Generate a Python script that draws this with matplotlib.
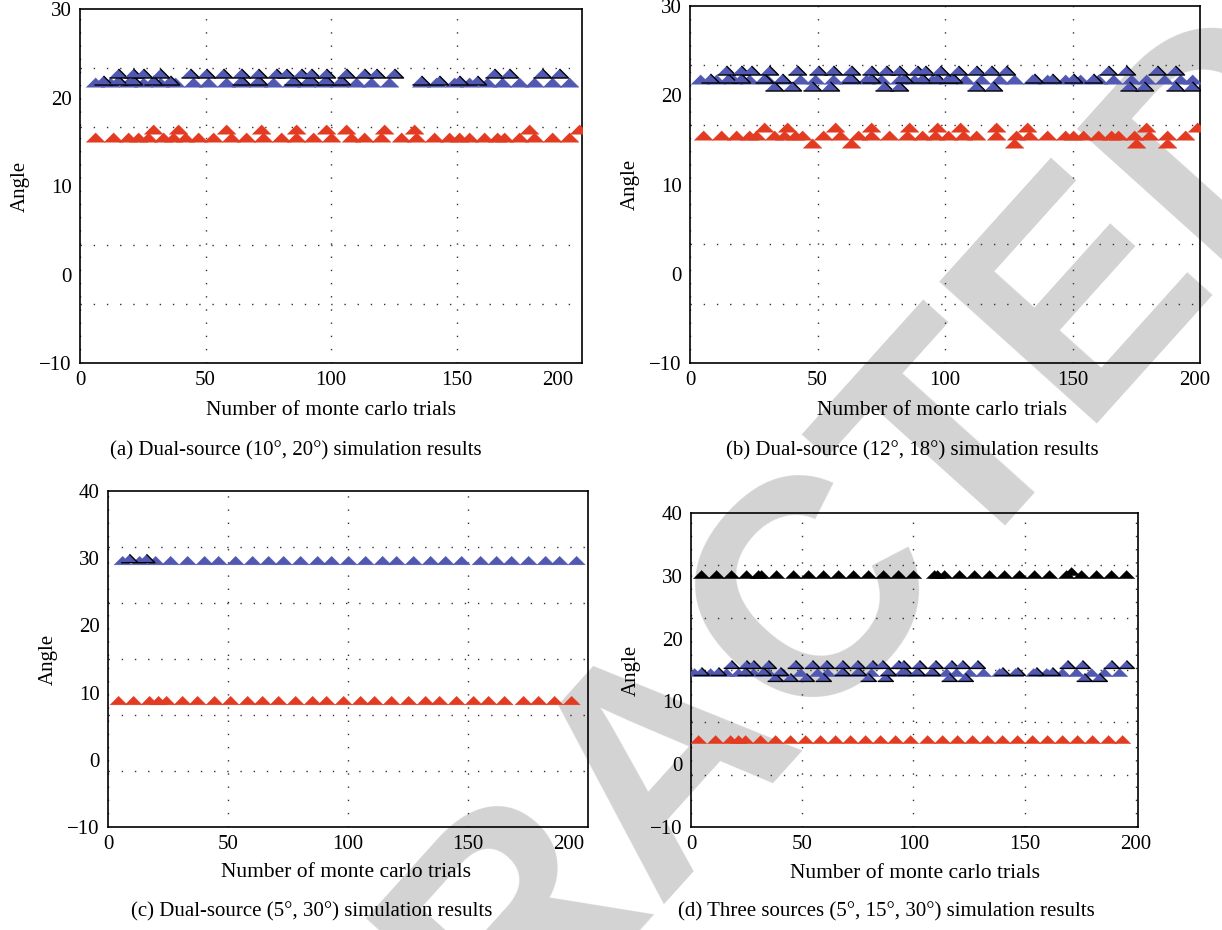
import matplotlib
matplotlib.use("Agg")
import matplotlib.pyplot as plt
import matplotlib.transforms as mtransforms
import numpy as np

plt.rcParams["font.family"] = ["Liberation Serif", "DejaVu Serif"]

# ---- data (trial number, estimated angle) ----
# (a) dual source
a_red_base = [6, 13, 19, 23, 27, 33, 37, 42, 47, 53, 60, 66, 73, 80, 86, 93, 100, 108, 113,
              120, 128, 134, 141, 147, 151, 155, 161, 166, 169, 175, 181, 188, 195]
a_red_up = [29, 39, 58, 72, 86, 98, 106, 121, 133, 179, 199]
a_blue = [6, 12, 19, 25, 32, 38, 45, 51, 58, 64, 71, 77, 84, 90, 97, 103, 110, 116, 123,
          136, 142, 149, 155, 162, 168, 175, 181, 188, 195]
a_open_up = [15, 21, 25, 32, 44, 50, 57, 64, 71, 78, 82, 88, 92, 98, 106, 113, 118, 125,
             165, 171, 184, 191]
a_open_mid = [9, 15, 21, 29, 36, 64, 71, 85, 92, 98, 104, 136, 143, 151, 158]

# (b) dual source
b_red_base = [5, 12, 18, 23, 26, 33, 37, 41, 44, 52, 59, 66, 71, 78, 85, 91, 96, 101, 107,
              112, 120, 128, 133, 140, 147, 150, 154, 160, 165, 168, 174, 180, 187, 194]
b_red_up = [29, 38, 57, 71, 86, 97, 106, 120, 132, 179, 199]
b_red_low = [48, 63, 127, 175, 187]
b_blue = [4, 10, 17, 23, 30, 36, 43, 49, 56, 62, 69, 75, 82, 88, 95, 101, 108, 114, 121,
          127, 134, 140, 147, 153, 160, 166, 173, 179, 186, 192, 197]
b_open_up = [14, 20, 24, 31, 42, 50, 56, 63, 71, 77, 82, 89, 92, 98, 105, 112, 118, 124,
             164, 171, 183, 190]
b_open_mid = [8, 15, 20, 29, 36, 63, 71, 84, 91, 97, 101, 103, 135, 142, 150, 158]
b_open_low = [33, 40, 48, 55, 76, 82, 112, 119, 172, 178, 190, 197]

# (c) dual source
c_red = [4, 10.5, 17, 21, 24, 31, 37, 44, 51, 58, 64, 71, 78, 85, 91, 98, 105, 111, 118,
         125, 132, 138, 145, 152, 158.5, 165, 173, 179, 186, 193]
c_blue = [6, 13, 19.5, 26, 33, 40, 46, 53, 60, 66.5, 73, 80, 87, 93, 100, 107, 114, 120,
          127, 134, 140.5, 147, 155, 161.5, 168, 175, 182, 188, 195]
c_open = [8.7, 15.8]

# (d) three sources
d_black = [4.6, 11.4, 18.2, 24.9, 30.2, 31.7, 38.4, 45.9, 52.7, 59.5, 66.2, 73.0, 79.7,
           86.5, 93.2, 100, 109.2, 110.7, 113.7, 120.4, 127.2, 133.9, 140.7, 147.4, 154.2,
           160.9, 168.5, 175.2, 182.0, 188.7, 195.5]
d_black_up = [170.7]
d_blue = [1.5, 8.4, 15.8, 21, 28, 34.5, 41, 49, 56.5, 61, 68, 74.5, 81, 88, 94.5, 101, 108,
          114.5, 119, 124.8, 131.5, 138.3, 145.9, 154, 159.5, 167, 173, 179.7, 185.6, 192.3]
d_open_up = [18.2, 24.9, 27.9, 34.7, 46.7, 54.2, 60.9, 67.7, 74.5, 81.2, 85.7, 93.2, 95.5,
             102.3, 109.9, 116.7, 121.9, 128.7, 169.2, 175.9, 188.7, 195.5]
d_open_mid = [4.6, 12.2, 24.2, 32.4, 40.0, 67.7, 75.2, 88.7, 96.3, 101.5, 108.4, 140.0,
              146.7, 155.0, 162.5]
d_open_low = [37.7, 44.5, 51.9, 59.5, 79.7, 87.2, 115.9, 123.4, 176.7, 183.5]
d_red = [3.2, 10.7, 17.4, 21.2, 24.2, 30.9, 37.7, 44.5, 51.2, 58.0, 64.7, 71.5, 78.2, 85.0,
         91.8, 98.5, 106.2, 112.9, 119.7, 126.4, 133.2, 139.9, 146.7, 153.5, 160.2, 167.0,
         173.7, 180.5, 187.3, 194.0]

RED = "#e23b22"
BLUE = "#5158b2"
TRI = [(-1, -0.5), (1, -0.5), (0, 0.5)]  # wide flat triangle

captions = [
    "(a) Dual-source (10°, 20°) simulation results",
    "(b) Dual-source (12°, 18°) simulation results",
    "(c) Dual-source (5°, 30°) simulation results",
    "(d) Three sources (5°, 15°, 30°) simulation results",
]

fig = plt.figure(figsize=(12.22, 9.30), dpi=100)
W, H = 1222, 930

# watermark behind everything
fig.text(668 / W, 1 - 758 / H, "RETRACTED", rotation=48, rotation_mode="anchor",
         ha="center", va="center", fontsize=222, fontweight="bold",
         family="Liberation Sans", color="#d3d3d3", zorder=-5)


def make_ax(l, r, t, b):
    return fig.add_axes([l / W, 1 - b / H, (r - l) / W, (b - t) / H])


def dots(ax, x, y, color, ms, edge=None):
    ax.plot(x, [y] * len(x), ls="none", marker=TRI, ms=ms, color=color,
            mec=edge if edge else color, mew=1.0 if edge else 0.3, zorder=3)


def style(ax, ylo, yhi, xhi, yticks, cap, lx, ly, cx, cy, shift200):
    ax.set_facecolor("none")
    ax.set_xlim(0, xhi)
    ax.set_ylim(ylo, yhi)
    ax.set_xticks([0, 50, 100, 150, 200])
    ax.set_yticks(yticks)
    ax.set_yticks(np.linspace(ylo, yhi, 7)[1:-1], minor=True)
    ax.tick_params(which="both", length=0, labelsize=15, pad=6)
    ax.grid(axis="x", which="major", color="#333333", ls=(0, (1, 8.5)), lw=1.0)
    ax.grid(axis="y", which="minor", color="#333333", ls=(0, (1, 8.5)), lw=1.0)
    for s in ax.spines.values():
        s.set_linewidth(1.2)
    ax.set_yticklabels([f"{v}".replace("-", "\u2212") for v in yticks])
    if shift200:
        lab = ax.get_xticklabels()[-1]
        lab.set_transform(lab.get_transform() +
                          mtransforms.ScaledTranslation(-shift200 / 100, 0, fig.dpi_scale_trans))
    ax.set_ylabel("Angle", fontsize=15, labelpad=7)
    fig.text(lx / W, 1 - ly / H, "Number of monte carlo trials", ha="center", va="center",
             fontsize=15.5)
    fig.text(cx / W, 1 - cy / H, cap, ha="center", va="center", fontsize=15)


# (a)
ax = make_ax(80, 582, 9, 363)
dots(ax, a_red_base, 15.5, RED, 13.5)
dots(ax, a_red_up, 16.4, RED, 13.5)
dots(ax, a_blue, 21.75, BLUE, 13.5)
dots(ax, a_open_mid, 21.95, BLUE, 13, "black")
dots(ax, a_open_up, 22.8, BLUE, 13, "black")
style(ax, -10, 30, 200, [-10, 0, 10, 20, 30], captions[0], 331, 410, 296, 451, 24)

# (b)
ax = make_ax(690, 1200, 6, 363)
dots(ax, b_red_base, 15.55, RED, 13.5)
dots(ax, b_red_up, 16.45, RED, 13.5)
dots(ax, b_red_low, 14.7, RED, 13.5)
dots(ax, b_blue, 21.8, BLUE, 13.5)
dots(ax, b_open_low, 21.05, BLUE, 13, "black")
dots(ax, b_open_mid, 21.95, BLUE, 13, "black")
dots(ax, b_open_up, 22.8, BLUE, 13, "black")
style(ax, -10, 30, 200, [-10, 0, 10, 20, 30], captions[1], 942, 410, 912, 451, 5)

# (c)
ax = make_ax(108, 588, 491, 827)
dots(ax, c_red, 8.9, RED, 12.5)
dots(ax, c_blue, 29.8, BLUE, 12.5)
dots(ax, c_open, 30.0, BLUE, 12, "black")
style(ax, -10, 40, 200, [-10, 0, 10, 20, 30, 40], captions[2], 346, 872, 312, 912, 19)

# (d)
ax = make_ax(691, 1138, 513, 827)
dots(ax, d_red, 4.0, RED, 11.8)
dots(ax, d_blue, 14.7, BLUE, 11.8)
dots(ax, d_open_low, 13.9, BLUE, 11.3, "black")
dots(ax, d_open_mid, 14.9, BLUE, 11.3, "black")
dots(ax, d_open_up, 16.0, BLUE, 11.3, "black")
dots(ax, d_black, 30.3, "black", 11.8)
dots(ax, d_black_up, 30.8, "black", 11.8)
style(ax, -10, 40, 201, [-10, 0, 10, 20, 30, 40], captions[3], 915, 873, 886, 912, 0)

fig.savefig("out.png", dpi=100)
